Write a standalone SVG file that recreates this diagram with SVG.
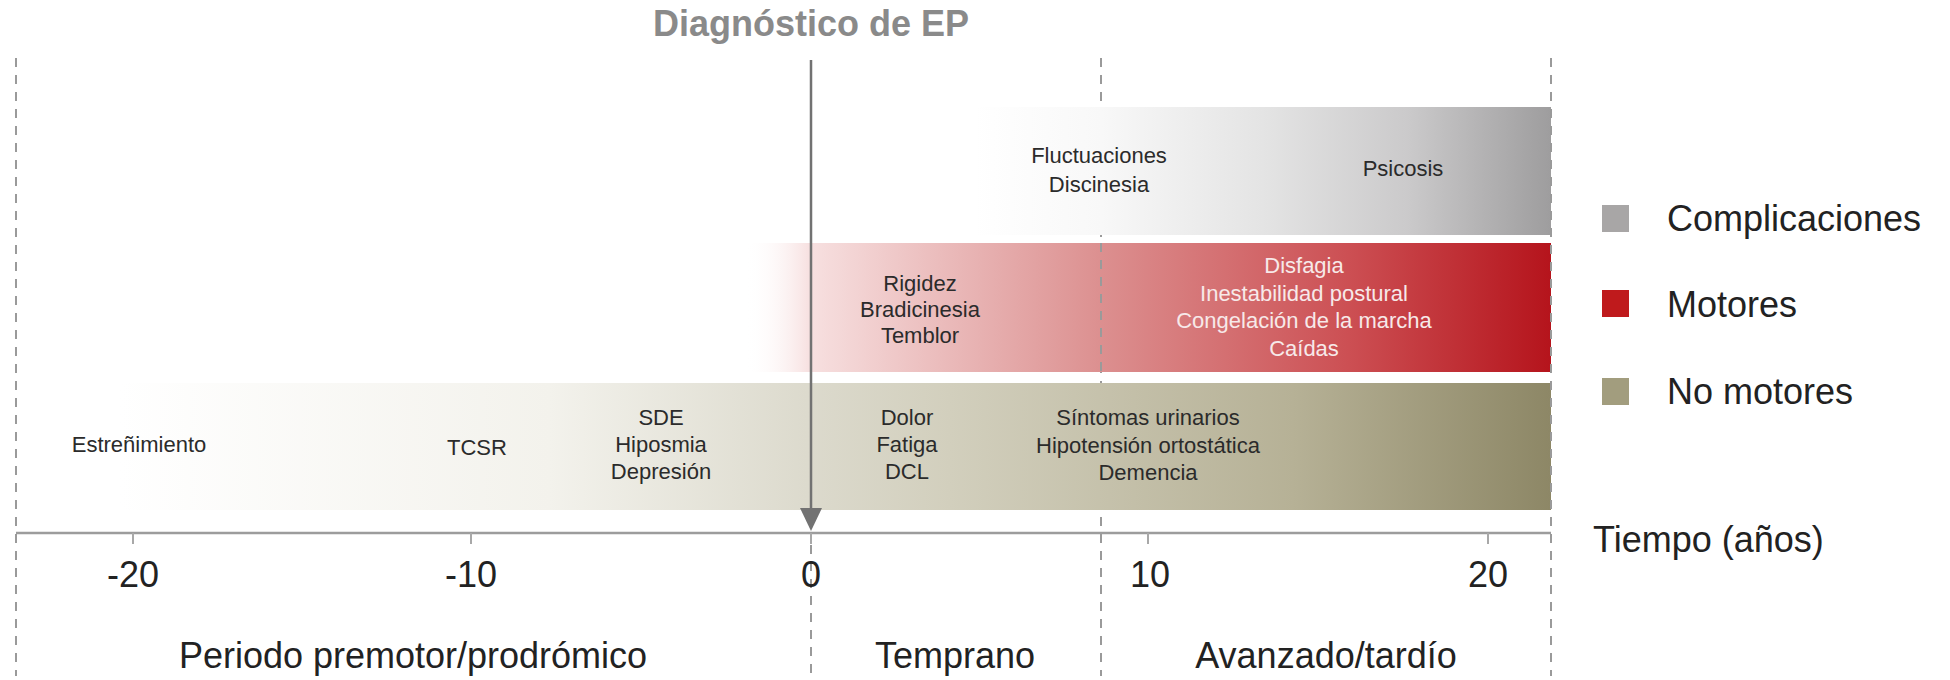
<svg xmlns="http://www.w3.org/2000/svg" width="1950" height="680" viewBox="0 0 1950 680">
<defs>
<style>
text{font-family:"Liberation Sans",Arial,sans-serif}
.sm{font-size:22px;fill:#2b2b2b;text-anchor:middle}
.smw{font-size:22px;fill:#f7e9e9;text-anchor:middle}
.big{font-size:36px;fill:#222}
.bigc{font-size:36px;fill:#222;text-anchor:middle}
.dash{stroke:#9a9a9a;stroke-width:2;stroke-dasharray:9 8;fill:none}
.tick{stroke:#a8a8a8;stroke-width:2}
</style>
<linearGradient id="gGray" gradientUnits="userSpaceOnUse" x1="975" y1="0" x2="1551" y2="0">
<stop offset="0" stop-color="#ffffff"/>
<stop offset="0.22" stop-color="#f8f8f8"/>
<stop offset="0.5" stop-color="#e4e4e4"/>
<stop offset="0.75" stop-color="#cbcacb"/>
<stop offset="1" stop-color="#9e9d9e"/>
</linearGradient>
<linearGradient id="gRed" gradientUnits="userSpaceOnUse" x1="745" y1="0" x2="1551" y2="0">
<stop offset="0" stop-color="#ffffff" stop-opacity="0"/>
<stop offset="0.08" stop-color="#f7e0e0"/>
<stop offset="0.44" stop-color="#dc9090"/>
<stop offset="0.75" stop-color="#cc4f53"/>
<stop offset="1" stop-color="#b5141c"/>
</linearGradient>
<linearGradient id="gBeige" gradientUnits="userSpaceOnUse" x1="120" y1="0" x2="1551" y2="0">
<stop offset="0" stop-color="#ffffff"/>
<stop offset="0.3" stop-color="#f3f2ec"/>
<stop offset="0.48" stop-color="#dcdacd"/>
<stop offset="0.58" stop-color="#d2cfbd"/>
<stop offset="0.82" stop-color="#b6b196"/>
<stop offset="1" stop-color="#8d8766"/>
</linearGradient>
</defs>
<rect width="1950" height="680" fill="#ffffff"/>

<g id="guides">
<line class="dash" x1="16" y1="58" x2="16" y2="676"/>
<line class="dash" x1="1101" y1="58" x2="1101" y2="676"/>
<line class="dash" x1="811" y1="545" x2="811" y2="676"/>
</g>

<g id="band-complicaciones">
<rect x="975" y="107" width="576" height="128" fill="url(#gGray)"/>
<text class="sm" x="1099" y="163">Fluctuaciones</text>
<text class="sm" x="1099" y="192">Discinesia</text>
<text class="sm" x="1403" y="176">Psicosis</text>
</g>

<g id="band-motores">
<rect x="745" y="243" width="806" height="129" fill="url(#gRed)"/>
<line class="dash" x1="1101" y1="243" x2="1101" y2="372" stroke="#8a6a6a"/>
<text class="sm" x="920" y="291">Rigidez</text>
<text class="sm" x="920" y="317">Bradicinesia</text>
<text class="sm" x="920" y="343">Temblor</text>
<text class="smw" x="1304" y="273">Disfagia</text>
<text class="smw" x="1304" y="301">Inestabilidad postural</text>
<text class="smw" x="1304" y="328">Congelación de la marcha</text>
<text class="smw" x="1304" y="356">Caídas</text>
</g>

<g id="band-no-motores">
<rect x="120" y="383" width="1431" height="127" fill="url(#gBeige)"/>
<text class="sm" x="139" y="452">Estreñimiento</text>
<text class="sm" x="477" y="455">TCSR</text>
<text class="sm" x="661" y="425">SDE</text>
<text class="sm" x="661" y="452">Hiposmia</text>
<text class="sm" x="661" y="479">Depresión</text>
<text class="sm" x="907" y="425">Dolor</text>
<text class="sm" x="907" y="452">Fatiga</text>
<text class="sm" x="907" y="479">DCL</text>
<text class="sm" x="1148" y="425">Síntomas urinarios</text>
<text class="sm" x="1148" y="453">Hipotensión ortostática</text>
<text class="sm" x="1148" y="480">Demencia</text>
</g>

<g id="right-edge">
<line class="dash" x1="1551" y1="58" x2="1551" y2="676"/>
</g>

<g id="axis">
<line x1="16" y1="533" x2="1551" y2="533" stroke="#9c9c9c" stroke-width="2.5"/>
<line class="tick" x1="133" y1="533" x2="133" y2="544"/>
<line class="tick" x1="471" y1="533" x2="471" y2="544"/>
<line class="tick" x1="811" y1="533" x2="811" y2="544"/>
<line class="tick" x1="1148" y1="533" x2="1148" y2="544"/>
<line class="tick" x1="1488" y1="533" x2="1488" y2="544"/>
<text class="bigc" x="133" y="587">-20</text>
<text class="bigc" x="471" y="587">-10</text>
<text class="bigc" x="811" y="587">0</text>
<text class="bigc" x="1150" y="587">10</text>
<text class="bigc" x="1488" y="587">20</text>
<text class="big" x="1593" y="552">Tiempo (años)</text>
</g>

<g id="periods">
<text class="bigc" x="413" y="668">Periodo premotor/prodrómico</text>
<text class="bigc" x="955" y="668">Temprano</text>
<text class="bigc" x="1326" y="668">Avanzado/tardío</text>
</g>

<g id="diagnosis-label">
<text x="811" y="36" text-anchor="middle" font-size="36" font-weight="bold" fill="#8a8a8a">Diagnóstico de EP</text>
</g>

<g id="connectors">
<line x1="811" y1="60" x2="811" y2="512" stroke="#727272" stroke-width="2.5"/>
<polygon points="800,508 822,508 811,531" fill="#727272"/>
</g>

<g id="legend">
<g id="legend-complicaciones">
<rect x="1602" y="205" width="27" height="27" fill="#a8a6a6"/>
<text class="big" x="1667" y="231">Complicaciones</text>
</g>
<g id="legend-motores">
<rect x="1602" y="290" width="27" height="27" fill="#bf1a1c"/>
<text class="big" x="1667" y="317">Motores</text>
</g>
<g id="legend-no-motores">
<rect x="1602" y="378" width="27" height="27" fill="#a29d7e"/>
<text class="big" x="1667" y="404">No motores</text>
</g>
</g>
</svg>
